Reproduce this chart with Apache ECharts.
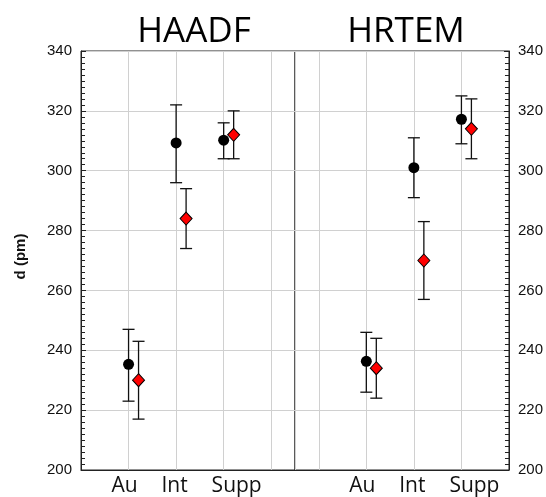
<!DOCTYPE html>
<html>
<head>
<meta charset="utf-8">
<script src="https://cdn.jsdelivr.net/npm/echarts@6/dist/echarts.min.js"></script>
<style>html,body{margin:0;padding:0;background:#fff}#c{width:546px;height:497px}</style>
</head>
<body>
<div id="c"></div>
<script>
const categories = ['Au', 'Int', 'Supp'];
const panelTitles = ['HAADF', 'HRTEM'];
const yTicks = [200, 220, 240, 260, 280, 300, 320, 340];

const haadfCircle = [235.3, 309.3, 310.2];
const haadfCircleLow = [223, 296, 304];
const haadfCircleHigh = [247, 322, 316];
const haadfDiamond = [230, 284, 312];
const haadfDiamondLow = [217, 274, 304];
const haadfDiamondHigh = [243, 294, 320];

const hrtemCircle = [236.3, 301, 317.2];
const hrtemCircleLow = [226, 291, 309];
const hrtemCircleHigh = [246, 311, 325];
const hrtemDiamond = [234, 270, 314];
const hrtemDiamondLow = [224, 257, 304];
const hrtemDiamondHigh = [244, 283, 324];

// x positions in half-unit steps; left axis normal, right axis inverse
const leftPos = i => 2 * (i + 1);
const rightPos = i => 6 - 2 * i;
const dOff = 0.42;

function pts(posFn, vals, off) { return vals.map((v, i) => [posFn(i) + off, v]); }
function bars(posFn, lo, hi, off) { return lo.map((l, i) => [posFn(i) + off, l, hi[i]]); }

function errRender(params, api) {
  const x = api.value(0);
  const top = api.coord([x, api.value(2)]);
  const bot = api.coord([x, api.value(1)]);
  const w = 6;
  const st = { stroke: '#111', lineWidth: 1.3 };
  return { type: 'group', children: [
    { type: 'line', shape: { x1: top[0], y1: top[1], x2: bot[0], y2: bot[1] }, style: st },
    { type: 'line', shape: { x1: top[0] - w, y1: top[1], x2: top[0] + w, y2: top[1] }, style: st },
    { type: 'line', shape: { x1: bot[0] - w, y1: bot[1], x2: bot[0] + w, y2: bot[1] }, style: st }
  ]};
}

const yMin = yTicks[0], yMax = yTicks[yTicks.length - 1], yInt = yTicks[1] - yTicks[0];
const labelFont = { fontFamily: 'Liberation Sans, Arial', fontSize: 15, color: '#111' };

function yAxis(gridIndex, position) {
  return {
    gridIndex, type: 'value', position, min: yMin, max: yMax, interval: yInt,
    axisLine: { show: true, lineStyle: { color: '#222', width: 1 } },
    axisTick: { show: true, inside: true, length: 5, lineStyle: { color: '#222' } },
    minorTick: { show: true, splitNumber: 10, length: 4, lineStyle: { color: '#222' } },
    axisLabel: Object.assign({ margin: 9 }, labelFont),
    splitLine: { show: true, lineStyle: { color: '#d0d0d0', width: 1 } },
    name: position === 'left' ? 'd (pm)' : '',
    nameLocation: 'middle', nameGap: 53,
    nameTextStyle: { fontFamily: 'Liberation Sans, Arial', fontSize: 15, fontWeight: 'bold', color: '#111', padding: [0, 0, 0, 8] }
  };
}

const richLab = {
  a: { fontFamily: 'Open Sans', fontSize: 21, color: '#111', padding: [0, 8, 0, 0] },
  b: { fontFamily: 'Open Sans', fontSize: 21, color: '#111', padding: [0, 3, 0, 0] },
  c: { fontFamily: 'Open Sans', fontSize: 21, color: '#111', padding: [0, 0, 0, 26] }
};
const richKeys = ['a', 'b', 'c'];

function xAxis(gridIndex, inverse, posFn) {
  return {
    gridIndex, type: 'value', min: 0, max: 9, interval: 2, inverse,
    axisLine: { show: true, lineStyle: { color: '#222' } },
    axisTick: { show: false },
    axisLabel: {
      fontFamily: 'Open Sans', fontSize: 21, color: '#111', margin: 6,
      rich: richLab,
      formatter: v => { const i = categories.findIndex((c, k) => posFn(k) === v); return i >= 0 ? '{' + richKeys[i] + '|' + categories[i] + '}' : ''; }
    },
    splitLine: { show: true, lineStyle: { color: '#d0d0d0', width: 1 } }
  };
}

function panelSeries(idx, posFn, cV, cL, cH, dV, dL, dH) {
  const diamondOff = idx === 0 ? dOff : -dOff;
  return [
    { type: 'custom', xAxisIndex: idx, yAxisIndex: idx, renderItem: errRender, encode: { x: 0, y: [1, 2] }, data: bars(posFn, cL, cH, 0), z: 2 },
    { type: 'custom', xAxisIndex: idx, yAxisIndex: idx, renderItem: errRender, encode: { x: 0, y: [1, 2] }, data: bars(posFn, dL, dH, diamondOff), z: 2 },
    { type: 'scatter', xAxisIndex: idx, yAxisIndex: idx, symbol: 'circle', symbolSize: 11, itemStyle: { color: '#000', opacity: 1 }, data: pts(posFn, cV, 0), z: 3 },
    { type: 'scatter', xAxisIndex: idx, yAxisIndex: idx, symbol: 'diamond', symbolSize: [12, 13], itemStyle: { color: '#ff0000', borderColor: '#000', borderWidth: 1, opacity: 1 }, data: pts(posFn, dV, diamondOff), z: 4 }
  ];
}

const chart = echarts.init(document.getElementById('c'), null, { renderer: 'canvas' });
chart.setOption({
  animation: false,
  backgroundColor: '#fff',
  title: [
    { text: panelTitles[0], left: 189, top: 10, textAlign: 'center', textStyle: { fontFamily: 'Open Sans', fontSize: 35, fontWeight: 'normal', color: '#000' } },
    { text: panelTitles[1], left: 401, top: 10, textAlign: 'center', textStyle: { fontFamily: 'Open Sans', fontSize: 35, fontWeight: 'normal', color: '#000' } }
  ],
  grid: [
    { left: 81, top: 51, width: 214, height: 421, show: true, borderColor: '#222', borderWidth: 1, backgroundColor: 'transparent' },
    { left: 295, top: 51, width: 214, height: 421, show: true, borderColor: '#222', borderWidth: 1, backgroundColor: 'transparent' }
  ],
  xAxis: [xAxis(0, false, leftPos), xAxis(1, true, rightPos)],
  yAxis: [yAxis(0, 'left'), yAxis(1, 'right')],
  series: [
    ...panelSeries(0, leftPos, haadfCircle, haadfCircleLow, haadfCircleHigh, haadfDiamond, haadfDiamondLow, haadfDiamondHigh),
    ...panelSeries(1, rightPos, hrtemCircle, hrtemCircleLow, hrtemCircleHigh, hrtemDiamond, hrtemDiamondLow, hrtemDiamondHigh)
  ]
});
</script>
</body>
</html>
